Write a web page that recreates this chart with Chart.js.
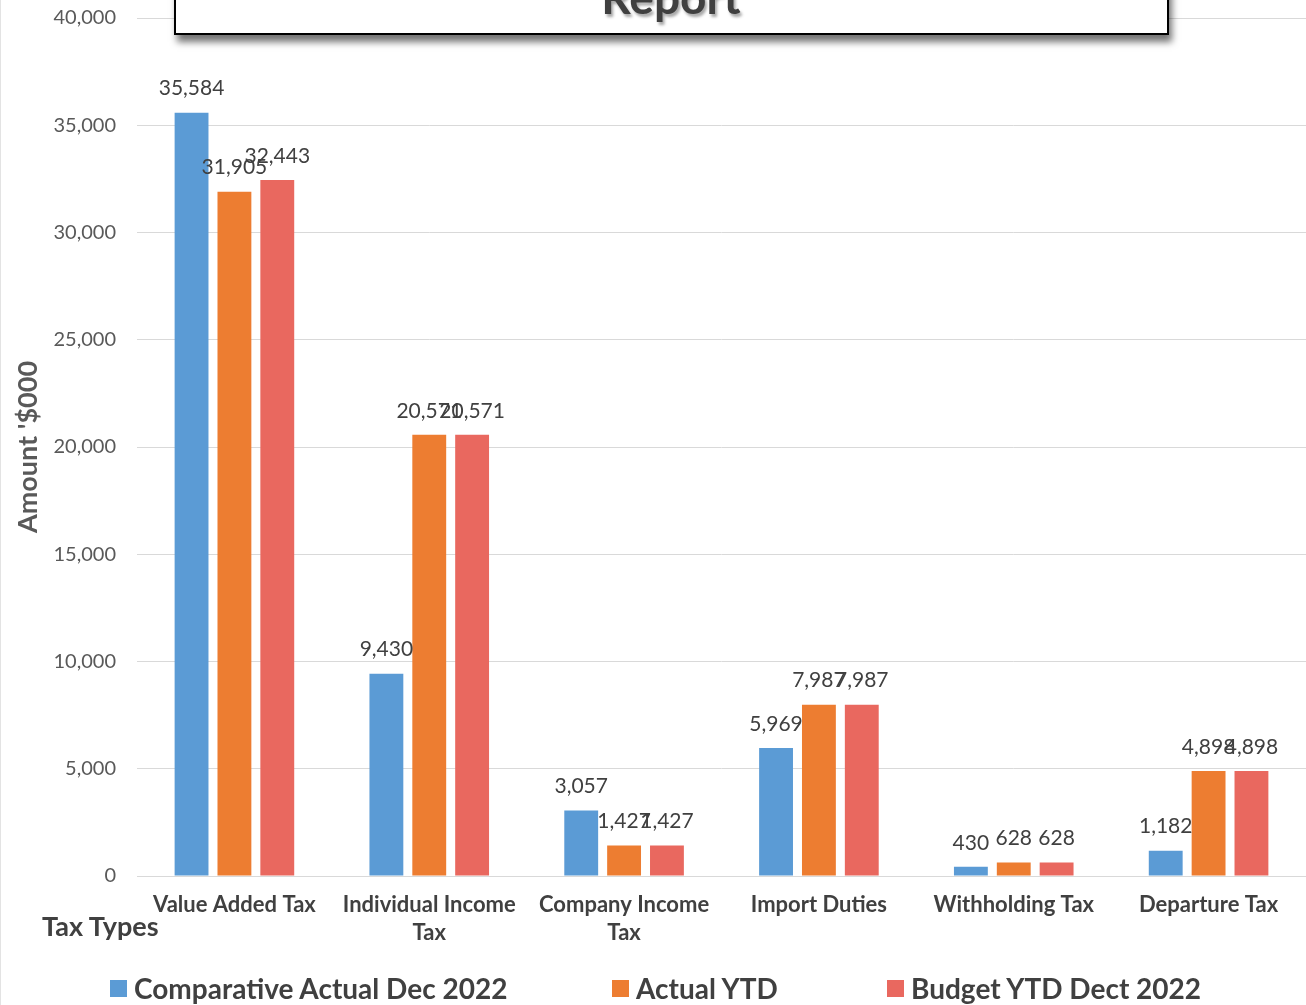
<!DOCTYPE html>
<html>
<head>
<meta charset="utf-8">
<script src="https://cdn.jsdelivr.net/npm/chart.js@4/dist/chart.umd.min.js"></script>
<style>
  html, body { margin: 0; padding: 0; background: #fff; overflow: hidden; }
  #wrap { position: relative; width: 1306px; height: 1005px; overflow: hidden; font-family: Lato, "Open Sans", sans-serif; }
  #wrap canvas { position: absolute; left: 0; top: 0; }
  #leftline { position: absolute; left: 0; top: 0; width: 1px; height: 1005px; background: #e3e3e3; }
  #titlebox { position: absolute; left: 174px; top: -100px; width: 991px; height: 131px; border: 2px solid #000; background: #fff; box-shadow: 3px 7px 7px rgba(0,0,0,0.55); }
  #titletext { position: absolute; left: 0; width: 1342px; top: -26px; text-align: center; font-size: 46px; line-height: 46px; font-weight: bold; color: #404040; text-shadow: 2px 3px 3px rgba(0,0,0,0.35); white-space: nowrap; }
  #taxtypes { position: absolute; left: 42px; top: 910px; font-size: 27px; font-weight: bold; color: #404040; line-height: 32px; }
  .leg { position: absolute; top: 972px; height: 32px; display: flex; align-items: center; font-size: 28px; font-weight: bold; color: #404040; white-space: nowrap; }
  .leg span.sw { display: inline-block; width: 17px; height: 17px; margin-right: 7px; }
</style>
</head>
<body>
<div id="wrap">
  <canvas id="c" width="1306" height="1005"></canvas>
  <div id="leftline"></div>
  <div id="titlebox"></div>
  <div id="titletext">Report</div>
  <div id="taxtypes">Tax Types</div>
  <div id="legend"></div>
</div>
<script>
const categories = [["Value Added Tax"], ["Individual Income", "Tax"], ["Company Income", "Tax"], ["Import Duties"], ["Withholding Tax"], ["Departure Tax"]];
const seriesNames = ["Comparative Actual Dec 2022", "Actual YTD", "Budget YTD Dect 2022"];
const comparativeActualDec2022 = [35584, 9430, 3057, 5969, 430, 1182];
const actualYTD = [31905, 20571, 1427, 7987, 628, 4898];
const budgetYTDDec2022 = [32443, 20571, 1427, 7987, 628, 4898];
const yTickValues = [0, 5000, 10000, 15000, 20000, 25000, 30000, 35000, 40000];

const colors = ["#5B9BD5", "#ED7D31", "#E9685F"];
const legendLeft = [110, 612, 887];

const fmt = v => v.toLocaleString("en-US");

// HTML legend
const legEl = document.getElementById("legend");
seriesNames.forEach((n, i) => {
  const d = document.createElement("div");
  d.className = "leg";
  d.style.left = legendLeft[i] + "px";
  d.innerHTML = '<span class="sw" style="background:' + colors[i] + '"></span>' + n;
  legEl.appendChild(d);
});

const valueLabels = {
  id: "valueLabels",
  afterDatasetsDraw(chart) {
    const ctx = chart.ctx;
    ctx.save();
    ctx.font = "21px Lato, 'Open Sans', sans-serif";
    ctx.fillStyle = "#404040";
    ctx.textAlign = "center";
    ctx.textBaseline = "middle";
    chart.data.datasets.forEach((ds, di) => {
      const meta = chart.getDatasetMeta(di);
      meta.data.forEach((bar, i) => {
        ctx.fillText(fmt(ds.data[i]), bar.x, bar.y - 24);
      });
    });
    ctx.restore();
  }
};

new Chart(document.getElementById("c"), {
  type: "bar",
  data: {
    labels: categories,
    datasets: [
      { label: seriesNames[0], data: comparativeActualDec2022, backgroundColor: colors[0] },
      { label: seriesNames[1], data: actualYTD, backgroundColor: colors[1] },
      { label: seriesNames[2], data: budgetYTDDec2022, backgroundColor: colors[2] }
    ]
  },
  options: {
    responsive: false,
    animation: false,
    devicePixelRatio: 1,
    layout: { padding: { top: 18, right: -4, bottom: 49, left: 0 } },
    datasets: { bar: { categoryPercentage: 0.66, barPercentage: 0.79 } },
    plugins: {
      legend: { display: false },
      tooltip: { enabled: false },
      title: { display: false }
    },
    scales: {
      x: {
        grid: { display: false, drawTicks: false },
        border: { display: true, color: "#d9d9d9", width: 1 },
        ticks: {
          autoSkip: false, maxRotation: 0, minRotation: 0, padding: 15,
          color: "#404040",
          font: { family: "Lato, 'Open Sans', sans-serif", size: 22, weight: "bold", lineHeight: 1.27 }
        },
        afterFit(scale) { scale.height = 80; }
      },
      y: {
        min: 0, max: 40000,
        afterBuildTicks(scale) { scale.ticks = yTickValues.map(v => ({ value: v })); },
        grid: { color: "#d9d9d9", drawTicks: false, lineWidth: 1 },
        border: { display: false },
        ticks: {
          padding: 21, color: "#595959",
          font: { family: "Lato, 'Open Sans', sans-serif", size: 20 },
          callback: v => fmt(v)
        },
        title: {
          display: true, text: "Amount '$000", color: "#595959",
          font: { family: "Lato, 'Open Sans', sans-serif", size: 27, weight: "bold" },
          padding: { top: 12, bottom: 0 }
        },
        afterFit(scale) { scale.width = 137; scale.paddingTop = 0; scale.paddingBottom = 0; }
      }
    }
  },
  plugins: [valueLabels]
});
</script>
</body>
</html>
